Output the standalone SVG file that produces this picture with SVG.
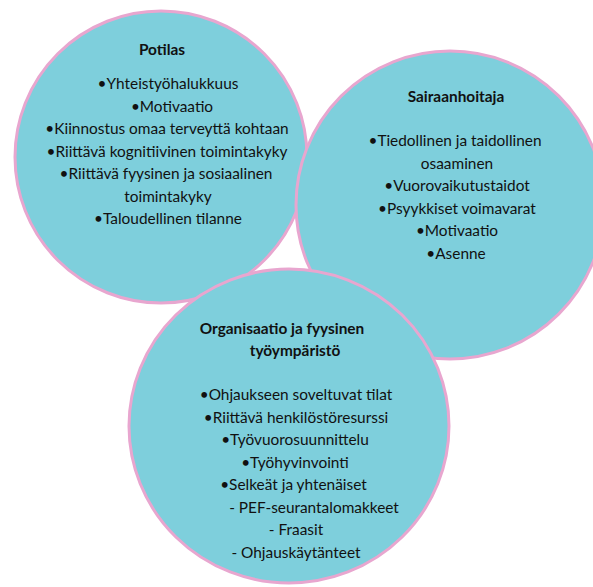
<svg xmlns="http://www.w3.org/2000/svg" width="593" height="587" viewBox="0 0 593 587">
<style>
.c{fill:#7ecfdc;stroke:#e8a6cf;stroke-width:3}
.t{font-family:Lato,"Open Sans","Liberation Sans",sans-serif;font-size:15.4px;fill:#111;text-anchor:middle}
.h{font-weight:bold}
</style>
<rect width="593" height="587" fill="#fff"/>
<g id="potilas">
<circle class="c" cx="161" cy="157" r="146"/>
<text class="t h" x="162" y="55">Potilas</text>
<text class="t" x="168" y="89">•Yhteistyöhalukkuus</text>
<text class="t" x="172" y="111.5">•Motivaatio</text>
<text class="t" x="167" y="134">•Kiinnostus omaa terveyttä kohtaan</text>
<text class="t" x="167" y="156.5">•Riittävä kognitiivinen toimintakyky</text>
<text class="t" x="166" y="179">•Riittävä fyysinen ja sosiaalinen</text>
<text class="t" x="168" y="201.5">toimintakyky</text>
<text class="t" x="168" y="224">•Taloudellinen tilanne</text>
</g>
<g id="sairaanhoitaja">
<circle class="c" cx="450" cy="205" r="154"/>
<text class="t h" x="456" y="102">Sairaanhoitaja</text>
<text class="t" x="455" y="146">•Tiedollinen ja taidollinen</text>
<text class="t" x="457" y="168.5">osaaminen</text>
<text class="t" x="457" y="191">•Vuorovaikutustaidot</text>
<text class="t" x="457" y="213.5">•Psyykkiset voimavarat</text>
<text class="t" x="457" y="236">•Motivaatio</text>
<text class="t" x="456" y="258.5">•Asenne</text>
</g>
<g id="organisaatio">
<ellipse class="c" cx="289" cy="426" rx="160" ry="157"/>
<text class="t h" x="282" y="334">Organisaatio ja fyysinen</text>
<text class="t h" x="295" y="356">työympäristö</text>
<text class="t" x="296" y="400">•Ohjaukseen soveltuvat tilat</text>
<text class="t" x="296" y="422.5">•Riittävä henkilöstöresurssi</text>
<text class="t" x="295" y="445">•Työvuorosuunnittelu</text>
<text class="t" x="295" y="467.5">•Työhyvinvointi</text>
<text class="t" x="293.5" y="490">•Selkeät ja yhtenäiset</text>
<text class="t" x="314" y="512.5">- PEF-seurantalomakkeet</text>
<text class="t" x="296" y="535">- Fraasit</text>
<text class="t" x="296" y="557.5">- Ohjauskäytänteet</text>
</g>
<g id="connectors"/>
</svg>
